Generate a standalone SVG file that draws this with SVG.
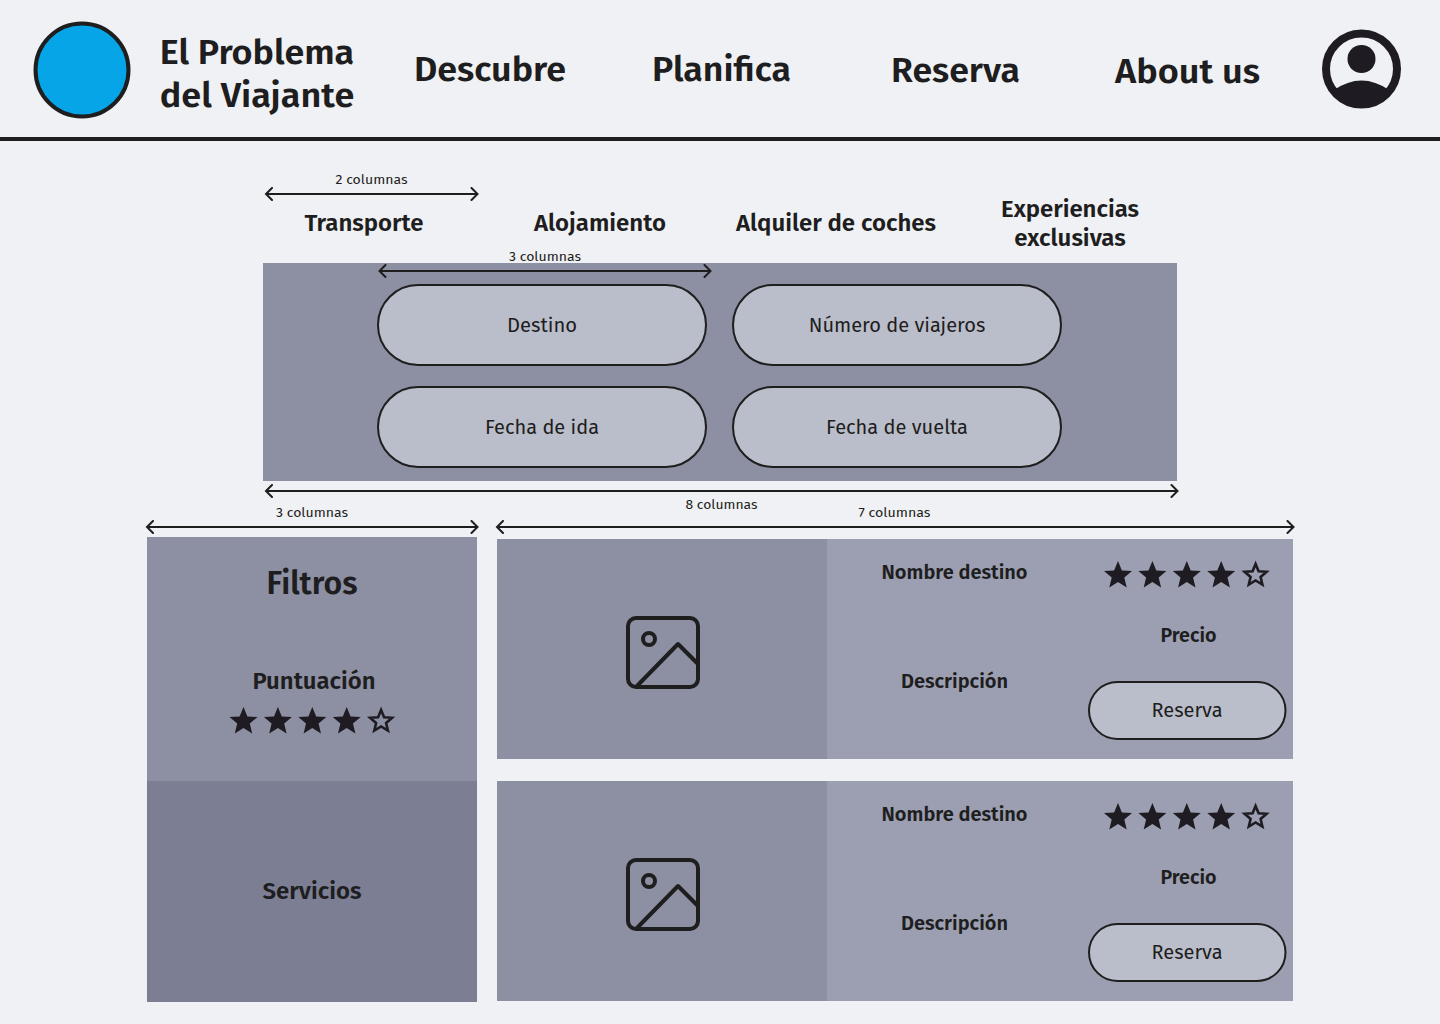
<svg xmlns="http://www.w3.org/2000/svg" width="1440" height="1024" viewBox="0 0 1440 1024">
<style>
text{font-family:"Fira Sans","Noto Sans","Open Sans",sans-serif;fill:#1e1e20;text-anchor:middle}
.b{font-weight:600}
.nav{font-size:35px}
.tab{font-size:23px}
.small{font-size:13px;font-weight:400}
.field{font-size:20px;font-weight:400}
.lbl{font-size:20px;font-weight:600}
.pill{fill:#babdca;stroke:#1e1e1e;stroke-width:2}
.arrow{fill:none;stroke:#1e1e1e;stroke-width:2;marker-start:url(#ah);marker-end:url(#ah)}
.ico{fill:none;stroke:#1e1e1e;stroke-width:4;stroke-linejoin:round;stroke-linecap:round}
</style>
<defs>
<marker id="ah" viewBox="-10 -7 20 14" markerWidth="20" markerHeight="14" refX="0" refY="0" orient="auto-start-reverse" markerUnits="userSpaceOnUse">
<path d="M-6,-6 L0,0 L-6,6" fill="none" stroke="#1e1e1e" stroke-width="2" stroke-linecap="round"/>
</marker>
<path id="star" d="M0,-14 L3.9,-4.6 L14,-4 L6.3,2.6 L8.7,12.4 L0,7 L-8.7,12.4 L-6.3,2.6 L-14,-4 L-3.9,-4.6 Z" fill="#1e1c22"/>
<path id="ostar" d="M0,-11 L3,-3.8 L11,-3.2 L5,2 L6.8,9.6 L0,5.5 L-6.8,9.6 L-5,2 L-11,-3.2 L-3,-3.8 Z" fill="none" stroke="#1e1c22" stroke-width="2.6"/>
<g id="stars">
<use href="#star" x="0"/><use href="#star" x="34.4"/><use href="#star" x="68.8"/><use href="#star" x="103.2"/><use href="#ostar" x="137.6"/>
</g>
<g id="pic">
<rect x="628" y="618" width="70" height="69" rx="8" class="ico"/>
<circle cx="649" cy="639" r="6" class="ico"/>
<path d="M637,686 L678,644 L697,663" class="ico"/>
</g>
</defs>
<rect width="1440" height="1024" fill="#f0f1f5"/>

<g id="header">
<rect x="0" y="137" width="1440" height="4" fill="#1e1e1e"/>
<circle id="logo" cx="82" cy="70" r="46.5" fill="#05a5e8" stroke="#1e1e1e" stroke-width="4"/>
<text class="b nav" x="257" y="64" textLength="194.500" lengthAdjust="spacingAndGlyphs">El Problema</text>
<text class="b nav" x="257" y="107" textLength="194.500" lengthAdjust="spacingAndGlyphs">del Viajante</text>
<text class="b nav" x="490" y="81" textLength="152" lengthAdjust="spacingAndGlyphs">Descubre</text>
<text class="b nav" x="721.5" y="81" textLength="139" lengthAdjust="spacingAndGlyphs">Planifica</text>
<text class="b nav" x="955.5" y="82" textLength="129" lengthAdjust="spacingAndGlyphs">Reserva</text>
<text class="b nav" x="1187.5" y="83" textLength="145" lengthAdjust="spacingAndGlyphs">About us</text>
<g id="user">
<circle cx="1361.5" cy="69" r="35.5" fill="none" stroke="#1e1c22" stroke-width="8"/>
<circle cx="1361.5" cy="59" r="14" fill="#1e1c22"/>
<path d="M1334,90 Q1361.5,71 1389,90 A35,35 0 0 1 1334,90 Z" fill="#1e1c22"/>
</g>
</g>

<g id="tabs">
<text class="b tab" x="364" y="231" textLength="119" lengthAdjust="spacingAndGlyphs">Transporte</text>
<text class="b tab" x="600" y="231" textLength="132" lengthAdjust="spacingAndGlyphs">Alojamiento</text>
<text class="b tab" x="836" y="231" textLength="200" lengthAdjust="spacingAndGlyphs">Alquiler de coches</text>
<text class="b tab" x="1070" y="217" textLength="138" lengthAdjust="spacingAndGlyphs">Experiencias</text>
<text class="b tab" x="1070" y="246" textLength="111.500" lengthAdjust="spacingAndGlyphs">exclusivas</text>
</g>

<g id="search">
<rect x="263" y="263" width="914" height="218" fill="#8d8fa3"/>
<g id="destino"><rect class="pill" x="378" y="285" width="328" height="80" rx="40"/><text class="field" x="542" y="332" textLength="70" lengthAdjust="spacingAndGlyphs">Destino</text></g>
<g id="viajeros"><rect class="pill" x="733" y="285" width="328" height="80" rx="40"/><text class="field" x="897" y="332" textLength="176.500" lengthAdjust="spacingAndGlyphs">Número de viajeros</text></g>
<g id="ida"><rect class="pill" x="378" y="387" width="328" height="80" rx="40"/><text class="field" x="542" y="434" textLength="114" lengthAdjust="spacingAndGlyphs">Fecha de ida</text></g>
<g id="vuelta"><rect class="pill" x="733" y="387" width="328" height="80" rx="40"/><text class="field" x="897" y="434" textLength="142" lengthAdjust="spacingAndGlyphs">Fecha de vuelta</text></g>
</g>

<g id="filtros">
<rect x="147" y="537" width="330" height="244" fill="#8d8fa3"/>
<rect x="147" y="781" width="330" height="221" fill="#7c7e94"/>
<text class="b" font-size="32" x="312" y="594" textLength="91" lengthAdjust="spacingAndGlyphs">Filtros</text>
<text class="b tab" x="314" y="689" textLength="123" lengthAdjust="spacingAndGlyphs">Puntuación</text>
<use href="#stars" x="243.5" y="721"/>
<text class="b tab" x="312" y="899" textLength="99" lengthAdjust="spacingAndGlyphs">Servicios</text>
</g>

<g id="card1">
<rect x="497" y="539" width="796" height="220" fill="#9c9fb1"/>
<rect x="497" y="539" width="330" height="220" fill="#8d8fa3"/>
<use href="#pic"/>
<text class="lbl" x="954.5" y="579" textLength="146" lengthAdjust="spacingAndGlyphs">Nombre destino</text>
<use href="#stars" x="1118" y="575"/>
<text class="lbl" x="1188.5" y="642" textLength="56" lengthAdjust="spacingAndGlyphs">Precio</text>
<text class="lbl" x="954.5" y="688" textLength="107" lengthAdjust="spacingAndGlyphs">Descripción</text>
<rect class="pill" x="1089" y="682" width="196.500" height="57" rx="28.5"/>
<text class="field" x="1187" y="717" textLength="71" lengthAdjust="spacingAndGlyphs">Reserva</text>
</g>

<g id="card2">
<rect x="497" y="781" width="796" height="220" fill="#9c9fb1"/>
<rect x="497" y="781" width="330" height="220" fill="#8d8fa3"/>
<use href="#pic" y="242"/>
<text class="lbl" x="954.5" y="821" textLength="146" lengthAdjust="spacingAndGlyphs">Nombre destino</text>
<use href="#stars" x="1118" y="817"/>
<text class="lbl" x="1188.5" y="884" textLength="56" lengthAdjust="spacingAndGlyphs">Precio</text>
<text class="lbl" x="954.5" y="930" textLength="107" lengthAdjust="spacingAndGlyphs">Descripción</text>
<rect class="pill" x="1089" y="924" width="196.500" height="57" rx="28.5"/>
<text class="field" x="1187" y="959" textLength="71" lengthAdjust="spacingAndGlyphs">Reserva</text>
</g>

<g id="connectors">
<line class="arrow" x1="266" y1="194" x2="477.500" y2="194"/>
<line class="arrow" x1="379.500" y1="271" x2="710.500" y2="271"/>
<line class="arrow" x1="266" y1="491" x2="1177.500" y2="491"/>
<line class="arrow" x1="147" y1="527" x2="477.500" y2="527"/>
<line class="arrow" x1="497" y1="527" x2="1293.500" y2="527"/>
</g>
<g id="annotations">
<text class="small" x="371.5" y="184" textLength="72" lengthAdjust="spacingAndGlyphs">2 columnas</text>
<text class="small" x="545" y="261" textLength="72" lengthAdjust="spacingAndGlyphs">3 columnas</text>
<text class="small" x="721.5" y="509" textLength="72" lengthAdjust="spacingAndGlyphs">8 columnas</text>
<text class="small" x="312" y="517" textLength="72" lengthAdjust="spacingAndGlyphs">3 columnas</text>
<text class="small" x="894.5" y="517" textLength="72" lengthAdjust="spacingAndGlyphs">7 columnas</text>
</g>
</svg>
